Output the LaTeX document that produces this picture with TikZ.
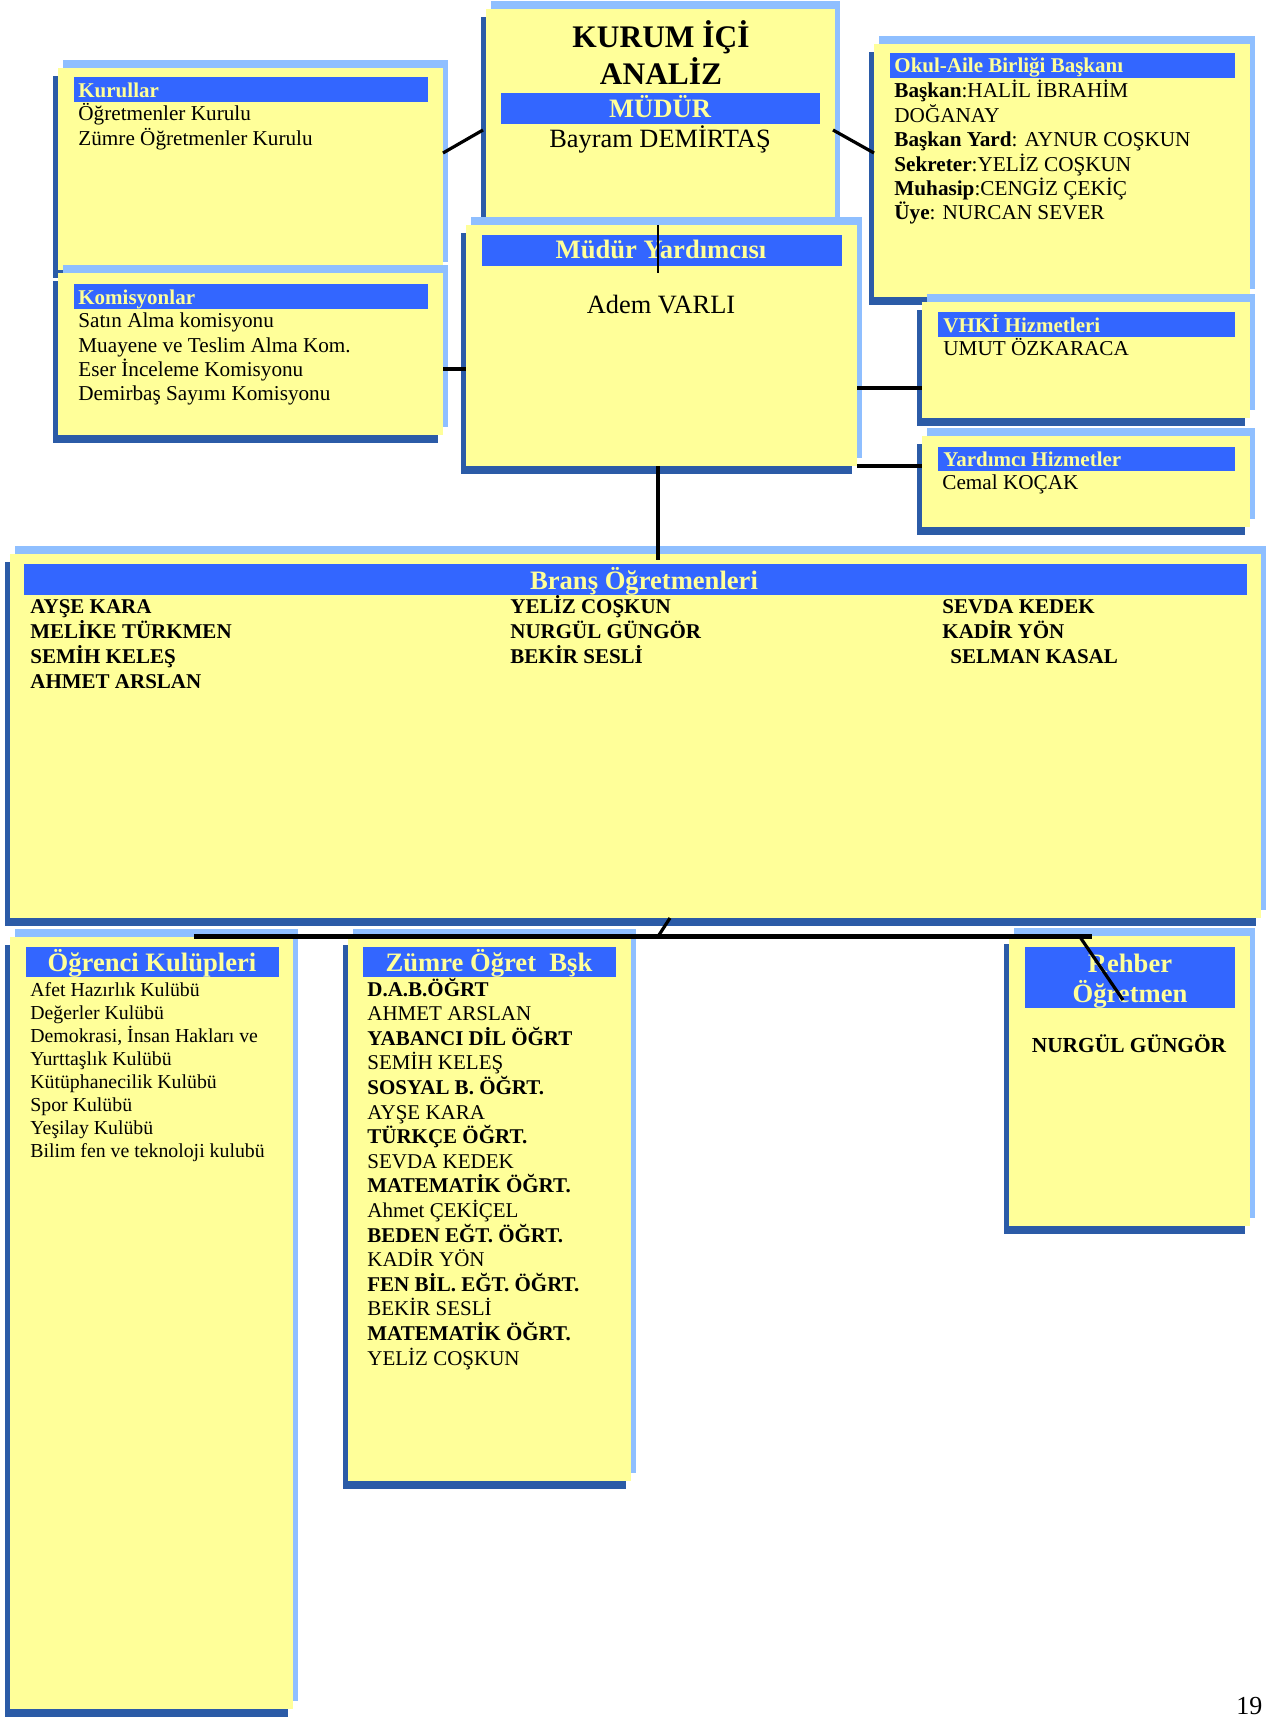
\documentclass[tikz,border=0pt]{standalone}
\usepackage{fontspec}
\setmainfont{Liberation Serif}
\usetikzlibrary{fit}
\definecolor{yfill}{HTML}{FFFF99}
\definecolor{lbl}{HTML}{8FBFFF}
\definecolor{dbl}{HTML}{2B5BA7}
\definecolor{hbl}{HTML}{3366FF}
\definecolor{htx}{HTML}{FFFF99}
\newcommand\ybx[5]{%
  \fill[lbl] (#2+5,#3-8) rectangle (#4+5,#5-8);
  \fill[dbl] (#2-5,#3+8) rectangle (#4-5,#5+8);
  \node[ybox, fit={(#2,#3) (#4,#5)}] (#1) {};}
\newcommand\hbx[5]{\node[hbar, fit={(#2,#3) (#4,#5)}] (#1) {};}
\begin{document}
\begin{tikzpicture}[x=0.5pt,y=-0.5pt,
  ybox/.style={fill=yfill,draw=none,inner sep=0pt,outer sep=0pt},
  hbar/.style={fill=hbl,draw=none,inner sep=0pt,outer sep=0pt},
  htxt/.style={text=htx,font=\fontsize{10.5}{12}\selectfont\bfseries,inner sep=0pt,anchor=base west},
  hbig/.style={text=htx,font=\fontsize{13.3}{15}\selectfont\bfseries,inner sep=0pt,anchor=base},
  body/.style={font=\fontsize{10.6}{12}\selectfont,inner sep=0pt,anchor=base west},
  bigname/.style={font=\fontsize{13.2}{15}\selectfont,inner sep=0pt,anchor=base},
  title/.style={font=\fontsize{15.7}{18}\selectfont\bfseries,inner sep=0pt,anchor=base},
  bname/.style={font=\fontsize{10.5}{12}\selectfont\bfseries,inner sep=0pt,anchor=base west},
  club/.style={font=\fontsize{9.9}{12}\selectfont,inner sep=0pt,anchor=base west},
  zum/.style={font=\fontsize{10.5}{12}\selectfont,inner sep=0pt,anchor=base west},
  conn/.style={draw=black,line width=1.6pt},
  thinconn/.style={draw=black,line width=0.8pt},
  barline/.style={draw=black,line width=2.6pt}]
\useasboundingbox (0,0) rectangle (1266,1717);
\fill[white] (0,0) rectangle (1266,1717);

% ---- boxes ----
\ybx{kurullar}{58}{68}{443}{270}
\hbx{kurullarh}{74}{77}{428}{102}
\node[htxt] (kurullart) at (78,98) {Kurullar};
\foreach \t [count=\i] in {{Öğretmenler Kurulu},{Zümre Öğretmenler Kurulu}}
  \node[body] (kurl\i) at (78,{121+24.5*(\i-1)}) {\t};

\ybx{komis}{58}{273}{443}{435}
\hbx{komish}{74}{284}{428}{309}
\node[htxt] (komist) at (78,305) {Komisyonlar};
\foreach \t [count=\i] in {{Satın Alma komisyonu},{Muayene ve Teslim Alma Kom.},{Eser İnceleme Komisyonu},{Demirbaş Sayımı Komisyonu}}
  \node[body] (kom\i) at (78,{328+24.3*(\i-1)}) {\t};

\ybx{kurum}{486}{9}{835}{225}
\node[title] (kurumt1) at (661,48) {KURUM İÇİ};
\node[title] (kurumt2) at (661,85) {ANALİZ};
\hbx{mudurh}{501}{93}{820}{124}
\node[hbig] (mudurt) at (660,118) {MÜDÜR};
\node[bigname] (mudurn) at (660,148) {Bayram DEMİRTAŞ};

\ybx{mudyrd}{466}{225}{857}{466}
\hbx{mudyrdh}{482}{235}{842}{266}
\node[hbig] (mudyrdt) at (661,259) {Müdür Yardımcısı};
\node[bigname] (mudyrdn) at (661,314) {Adem VARLI};

\ybx{okul}{874}{44}{1250}{297}
\hbx{okulh}{890}{53}{1235}{78}
\node[htxt] (okult) at (894,73) {Okul-Aile Birliği Başkanı};
\foreach \t [count=\i] in {{\textbf{Başkan}:HALİL İBRAHİM},{DOĞANAY},{\textbf{Başkan Yard}: AYNUR COŞKUN},{\textbf{Sekreter}:YELİZ COŞKUN},{\textbf{Muhasip}:CENGİZ ÇEKİÇ},{\textbf{Üye}: NURCAN SEVER}}
  \node[body] (okl\i) at (894,{98+24.4*(\i-1)}) {\t};

\ybx{vhki}{922}{302}{1250}{418}
\hbx{vhkih}{938}{312}{1235}{337}
\node[htxt] (vhkit) at (943,333) {VHKİ Hizmetleri};
\node[body] (vhkin) at (943,356) {UMUT ÖZKARACA};

\ybx{yard}{922}{436}{1250}{527}
\hbx{yardh}{938}{447}{1235}{471}
\node[htxt] (yardt) at (943,466) {Yardımcı Hizmetler};
\node[body] (yardn) at (942,489) {Cemal KOÇAK};

\ybx{brans}{10}{554}{1261}{918}
\hbx{bransh}{24}{564}{1247}{595}
\node[hbig] (branst) at (644,589) {Branş Öğretmenleri};
\foreach \t/\x/\y [count=\i] in {AYŞE KARA/30/613,MELİKE TÜRKMEN/30/638,SEMİH KELEŞ/30/663,AHMET ARSLAN/30/688,YELİZ COŞKUN/510/613,NURGÜL GÜNGÖR/510/638,BEKİR SESLİ/510/663,SEVDA KEDEK/942/613,KADİR YÖN/942/638,SELMAN KASAL/950/663}
  \node[bname] (br\i) at (\x,\y) {\t};

\ybx{ogr}{10}{937}{293}{1709}
\hbx{ogrh}{26}{947}{279}{977}
\node[hbig] (ogrt) at (152,971) {Öğrenci Kulüpleri};
\foreach \t [count=\i] in {{Afet Hazırlık Kulübü},{Değerler Kulübü},{Demokrasi, İnsan Hakları ve},{Yurttaşlık Kulübü},{Kütüphanecilik Kulübü},{Spor Kulübü},{Yeşilay Kulübü},{Bilim fen ve teknoloji kulubü}}
  \node[club] (cl\i) at (30,{996+23*(\i-1)}) {\t};

\ybx{zumre}{348}{937}{631}{1481}
\hbx{zumreh}{363}{947}{616}{977}
\node[hbig] (zumret) at (489,971) {Zümre Öğret~~Bşk};
\foreach \t [count=\i] in {{\textbf{D.A.B.ÖĞRT}},{AHMET ARSLAN},{\textbf{YABANCI DİL ÖĞRT}},{SEMİH KELEŞ},{\textbf{SOSYAL B. ÖĞRT.}},{AYŞE KARA},{\textbf{TÜRKÇE ÖĞRT.}},{SEVDA KEDEK},{\textbf{MATEMATİK ÖĞRT.}},{Ahmet ÇEKİÇEL},{\textbf{BEDEN EĞT. ÖĞRT.}},{KADİR YÖN},{\textbf{FEN BİL. EĞT. ÖĞRT.}},{BEKİR SESLİ},{\textbf{MATEMATİK ÖĞRT.}},{YELİZ COŞKUN}}
  \node[zum] (zm\i) at (367,{996+24.6*(\i-1)}) {\t};

\ybx{rehber}{1009}{936}{1250}{1226}
\hbx{rehberh}{1025}{947}{1235}{1008}
\node[hbig] (rehbert1) at (1130,972) {Rehber};
\node[hbig] (rehbert2) at (1130,1002) {Öğretmen};
\node[font=\fontsize{10.7}{12}\selectfont\bfseries,inner sep=0pt,anchor=base] (rehbern) at (1129,1052) {NURGÜL GÜNGÖR};

\node[font=\fontsize{13}{15}\selectfont,inner sep=0pt,anchor=base west] (pageno) at (1236,1714) {19};

% ---- connectors ----
\draw[conn] ([yshift=8pt]kurullar.east) -- ([xshift=-1.5pt,yshift=-6.5pt]kurum.west);
\draw[conn] ([xshift=-1pt,yshift=-6.5pt]kurum.east) -- ([yshift=8.75pt]okul.west);
\draw[conn] ([yshift=-7.5pt]komis.east) -- ([yshift=-11.75pt]mudyrd.west);
\draw[conn] ([yshift=-21.25pt]mudyrd.east) -- ([yshift=-14pt]vhki.west);
\draw[conn] ([yshift=-60.25pt]mudyrd.east) -- ([yshift=7.75pt]yard.west);
\draw[thinconn] ([xshift=-1.25pt]kurum.south) -- ([xshift=-2pt,yshift=-3.5pt]mudyrdh.south);
\draw[conn] ([xshift=-1.75pt]mudyrd.south) -- ([xshift=11.25pt,yshift=-3pt]brans.north);
\coordinate (barL) at (194,936.5);
\coordinate (barR) at (1092,936.5);
\coordinate (barM) at (658,936.5);
\coordinate (barK) at (1080,937);
\draw[barline] (barL) -- (barR);
\draw[conn] ([xshift=17.25pt]brans.south) -- (barM);
\draw[conn] (barK) -- ([xshift=-3.5pt,yshift=4pt]rehberh.south);
\end{tikzpicture}
\end{document}
